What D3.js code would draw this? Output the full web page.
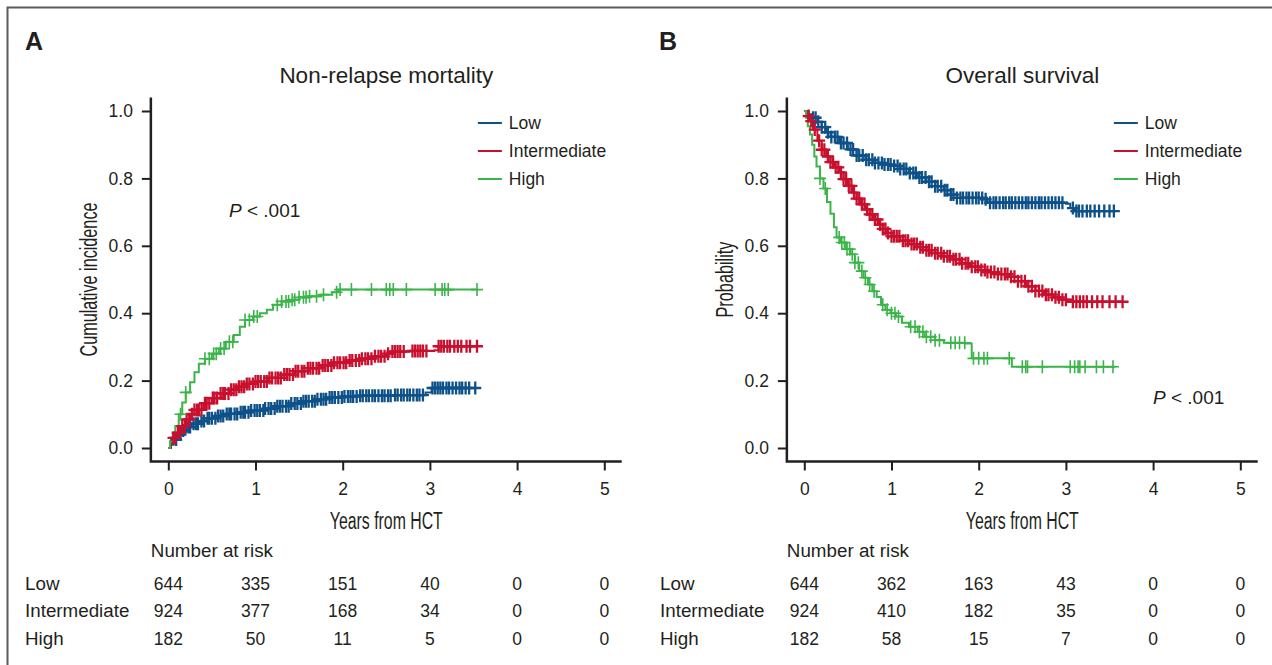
<!DOCTYPE html>
<html>
<head>
<meta charset="utf-8">
<script src="https://cdn.jsdelivr.net/npm/d3@7"></script>
<style>
  body { margin: 0; background: #fff; }
  svg { display: block; }
  text { fill: #231f20; font-family: "Liberation Sans", Arial, sans-serif; }
</style>
</head>
<body>
<svg id="chart" width="1272" height="665"></svg>
<script>
// ---- data ----
const groups = ["Low", "Intermediate", "High"];
const colors = ["#0e5189", "#c8102e", "#3bb44a"];
const censorWidth = [2.3, 2.3, 1.6];
const xTicks = [0, 1, 2, 3, 4, 5];
const yTicks = [0, 0.2, 0.4, 0.6, 0.8, 1.0];

// A: non-relapse mortality, [years, cumulative incidence]
const nrmLow = [[0,0],[0.03,0.01],[0.06,0.025],[0.1,0.04],[0.15,0.052],[0.2,0.062],[0.27,0.072],[0.35,0.08],[0.45,0.088],[0.55,0.095],[0.65,0.101],[0.8,0.106],[0.95,0.111],[1.1,0.117],[1.25,0.124],[1.4,0.132],[1.55,0.139],[1.7,0.145],[1.85,0.15],[2.0,0.153],[2.2,0.155],[2.6,0.157],[2.95,0.165],[3.02,0.178],[3.52,0.178]];
const nrmInt = [[0,0],[0.03,0.015],[0.06,0.03],[0.1,0.045],[0.15,0.065],[0.2,0.085],[0.25,0.1],[0.3,0.113],[0.4,0.133],[0.5,0.148],[0.6,0.162],[0.7,0.173],[0.8,0.182],[0.9,0.19],[1.0,0.197],[1.15,0.208],[1.3,0.218],[1.45,0.228],[1.6,0.237],[1.75,0.245],[1.9,0.253],[2.05,0.26],[2.2,0.265],[2.35,0.272],[2.5,0.28],[2.55,0.286],[2.8,0.288],[3.05,0.29],[3.1,0.302],[3.54,0.302]];
const nrmHigh = [[0,0],[0.02,0.02],[0.05,0.045],[0.08,0.065],[0.12,0.1],[0.16,0.135],[0.2,0.165],[0.25,0.195],[0.3,0.225],[0.35,0.25],[0.42,0.265],[0.5,0.28],[0.58,0.295],[0.66,0.315],[0.75,0.335],[0.82,0.36],[0.88,0.38],[0.97,0.39],[1.05,0.4],[1.13,0.41],[1.2,0.425],[1.3,0.435],[1.4,0.44],[1.5,0.447],[1.6,0.45],[1.75,0.455],[1.88,0.462],[1.95,0.47],[3.55,0.47]];

// censoring times (years)
const nrmLowCens = [0.09,0.12,0.14,0.17,0.2,0.23,0.25,0.29,0.32,0.34,0.38,0.41,0.45,0.47,0.5,0.54,0.57,0.6,0.63,0.67,0.7,0.72,0.76,0.79,0.83,0.86,0.88,0.92,0.95,0.99,1.02,1.05,1.09,1.11,1.15,1.18,1.22,1.25,1.28,1.31,1.35,1.38,1.41,1.45,1.48,1.52,1.55,1.58,1.61,1.65,1.68,1.71,1.75,1.78,1.81,1.85,1.88,1.91,1.95,1.99,2.02,2.06,2.09,2.12,2.16,2.2,2.23,2.27,2.3,2.34,2.37,2.41,2.45,2.48,2.52,2.55,2.6,2.63,2.67,2.7,2.74,2.77,2.81,2.85,2.88,2.92,3.03,3.06,3.09,3.12,3.15,3.19,3.22,3.26,3.3,3.34,3.37,3.41,3.45,3.52];
const nrmIntCens = [0.06,0.08,0.11,0.13,0.16,0.19,0.21,0.24,0.27,0.3,0.33,0.35,0.38,0.42,0.44,0.47,0.51,0.53,0.56,0.6,0.63,0.65,0.69,0.72,0.75,0.78,0.81,0.84,0.87,0.9,0.93,0.97,1.0,1.03,1.06,1.1,1.13,1.16,1.19,1.23,1.26,1.29,1.33,1.36,1.39,1.43,1.46,1.49,1.53,1.56,1.6,1.63,1.66,1.7,1.73,1.77,1.8,1.83,1.87,1.9,1.94,1.97,2.01,2.04,2.08,2.11,2.15,2.19,2.22,2.26,2.29,2.33,2.37,2.41,2.44,2.48,2.52,2.57,2.6,2.63,2.66,2.7,2.8,2.83,2.86,2.89,2.92,2.96,3.1,3.13,3.16,3.2,3.23,3.28,3.32,3.36,3.42,3.46,3.54];
const nrmHighCens = [0.14,0.2,0.42,0.47,0.52,0.55,0.6,0.64,0.7,0.74,0.88,0.93,0.98,1.02,1.25,1.3,1.35,1.38,1.42,1.45,1.5,1.55,1.58,1.62,1.7,1.78,1.93,1.97,2.1,2.33,2.5,2.54,2.58,2.73,3.06,3.14,3.17,3.21,3.54];

// B: overall survival, [years, probability]
const osLow = [[0,1],[0.05,0.99],[0.1,0.98],[0.15,0.968],[0.2,0.952],[0.25,0.937],[0.3,0.923],[0.4,0.905],[0.5,0.886],[0.6,0.868],[0.7,0.855],[0.8,0.846],[0.9,0.841],[1.0,0.837],[1.1,0.828],[1.2,0.816],[1.3,0.803],[1.4,0.79],[1.5,0.777],[1.6,0.765],[1.68,0.752],[1.75,0.742],[2.05,0.738],[2.1,0.728],[3.0,0.725],[3.05,0.712],[3.1,0.703],[3.55,0.703]];
const osInt = [[0,1],[0.03,0.985],[0.06,0.97],[0.1,0.945],[0.15,0.912],[0.2,0.885],[0.25,0.865],[0.3,0.848],[0.35,0.833],[0.4,0.818],[0.45,0.798],[0.5,0.778],[0.55,0.758],[0.6,0.74],[0.65,0.723],[0.7,0.708],[0.75,0.693],[0.8,0.678],[0.85,0.663],[0.9,0.65],[0.95,0.638],[1.0,0.628],[1.1,0.615],[1.2,0.605],[1.3,0.596],[1.4,0.587],[1.5,0.578],[1.6,0.569],[1.7,0.56],[1.8,0.548],[1.9,0.538],[2.0,0.528],[2.1,0.522],[2.2,0.516],[2.35,0.508],[2.45,0.495],[2.55,0.48],[2.65,0.466],[2.75,0.455],[2.85,0.447],[2.95,0.44],[3.05,0.434],[3.65,0.434]];
const osHigh = [[0,1],[0.02,0.98],[0.04,0.955],[0.065,0.93],[0.09,0.9],[0.115,0.865],[0.14,0.835],[0.18,0.8],[0.22,0.77],[0.26,0.73],[0.3,0.695],[0.34,0.655],[0.37,0.625],[0.42,0.61],[0.48,0.59],[0.53,0.575],[0.58,0.55],[0.63,0.525],[0.68,0.505],[0.73,0.485],[0.78,0.465],[0.83,0.448],[0.88,0.425],[0.93,0.41],[0.99,0.4],[1.05,0.39],[1.12,0.372],[1.2,0.36],[1.3,0.345],[1.38,0.33],[1.5,0.32],[1.6,0.312],[1.85,0.31],[1.92,0.266],[2.35,0.266],[2.38,0.241],[3.57,0.241]];

const osLowCens = [0.1,0.13,0.16,0.2,0.24,0.27,0.31,0.35,0.38,0.42,0.45,0.49,0.53,0.56,0.6,0.63,0.67,0.71,0.74,0.78,0.81,0.85,0.89,0.92,0.96,0.99,1.03,1.07,1.1,1.14,1.17,1.21,1.25,1.28,1.32,1.35,1.39,1.43,1.46,1.5,1.53,1.57,1.61,1.64,1.68,1.71,1.75,1.79,1.82,1.86,1.89,1.93,1.97,2.0,2.04,2.08,2.13,2.17,2.2,2.24,2.28,2.31,2.35,2.38,2.42,2.46,2.5,2.54,2.57,2.61,2.65,2.69,2.72,2.76,2.8,2.84,2.88,2.92,2.96,3.08,3.12,3.15,3.19,3.24,3.28,3.33,3.38,3.44,3.5,3.55];
const osIntCens = [0.05,0.08,0.12,0.17,0.2,0.23,0.27,0.3,0.33,0.36,0.39,0.42,0.45,0.48,0.51,0.54,0.57,0.6,0.63,0.66,0.69,0.72,0.75,0.78,0.81,0.84,0.87,0.9,0.93,0.96,1.0,1.03,1.06,1.09,1.13,1.16,1.19,1.23,1.26,1.29,1.33,1.36,1.4,1.43,1.46,1.5,1.53,1.57,1.6,1.64,1.67,1.71,1.74,1.78,1.81,1.85,1.88,1.92,1.96,1.99,2.03,2.07,2.1,2.14,2.18,2.22,2.26,2.3,2.33,2.37,2.41,2.45,2.49,2.53,2.57,2.61,2.65,2.69,2.73,2.77,2.8,2.84,2.88,2.92,2.96,3.0,3.08,3.12,3.16,3.2,3.24,3.3,3.36,3.42,3.5,3.57,3.65];
const osHighCens = [0.18,0.24,0.4,0.43,0.46,0.49,0.52,0.55,0.58,0.62,0.66,0.7,0.75,0.8,0.9,0.95,1.0,1.04,1.08,1.22,1.27,1.32,1.36,1.4,1.45,1.5,1.55,1.68,1.73,1.78,1.84,1.94,2.0,2.06,2.1,2.35,2.5,2.54,2.56,2.73,3.05,3.1,3.14,3.16,3.22,3.35,3.43,3.54];

// number at risk
const riskA = [[644,335,151,40,0,0],[924,377,168,34,0,0],[182,50,11,5,0,0]];
const riskB = [[644,362,163,43,0,0],[924,410,182,35,0,0],[182,58,15,7,0,0]];

const svg = d3.select("#chart");

// frame
svg.append("path")
    .attr("d", "M7.5,665 V7.5 H1272")
    .attr("fill", "none")
    .attr("stroke", "#5a5a5a")
    .attr("stroke-width", 2);

function stepValue(curve, t) {
    let v = curve[0][1];
    for (const p of curve) { if (p[0] <= t) v = p[1]; else break; }
    return v;
}

function drawPanel(o) {
    const x = d3.scaleLinear().domain([0, 5]).range([o.x0, o.x0 + 436]);
    const y = d3.scaleLinear().domain([0, 1]).range([448, 111]);
    const g = svg.append("g");

    // panel letter + title
    g.append("text").attr("x", o.letterX).attr("y", 50)
        .style("font-size", "25px").style("font-weight", "bold").text(o.letter);
    g.append("text").attr("x", (x(-0.2) + x(5.2)) / 2).attr("y", 83)
        .attr("text-anchor", "middle").style("font-size", "22.5px").text(o.title);

    // L-shaped box
    g.append("path")
        .attr("d", `M${x(-0.2)},${y(1.04)} V${y(-0.04)} H${x(5.2)}`)
        .attr("fill", "none").attr("stroke", "#231f20").attr("stroke-width", 2.5);

    const yAxis = g.append("g").attr("transform", `translate(${x(-0.2)},0)`)
        .call(d3.axisLeft(y).tickValues(yTicks).tickFormat(d3.format(".1f")).tickSize(9).tickPadding(9));
    const xAxis = g.append("g").attr("transform", `translate(0,${y(-0.04)})`)
        .call(d3.axisBottom(x).tickValues(xTicks).tickFormat(d3.format("d")).tickSize(9).tickPadding(12));
    [yAxis, xAxis].forEach(a => {
        a.select(".domain").remove();
        a.selectAll("line").attr("stroke", "#231f20").attr("stroke-width", 2);
        a.selectAll("text").style("font-size", "17.5px").style("font-family", null).attr("fill", "#231f20");
    });

    // condensed axis titles
    g.append("text")
        .attr("x", (x(-0.2) + x(5.2)) / 2).attr("y", 529)
        .attr("text-anchor", "middle").style("font-size", "23px")
        .attr("textLength", 113).attr("lengthAdjust", "spacingAndGlyphs")
        .text("Years from HCT");
    g.append("text")
        .attr("transform", `translate(${o.x0 - 71},${y(0.5)}) rotate(-90)`)
        .attr("text-anchor", "middle").style("font-size", "23px")
        .attr("textLength", o.yLabelLen).attr("lengthAdjust", "spacingAndGlyphs")
        .text(o.yLabel);

    // curves
    const line = d3.line().x(d => x(d[0])).y(d => y(d[1])).curve(d3.curveStepAfter);
    o.curves.forEach((c, i) => {
        g.append("path").datum(c).attr("d", line)
            .attr("fill", "none").attr("stroke", colors[i]).attr("stroke-width", 2);
    });
    o.censors.forEach((cs, i) => {
        g.append("g").selectAll("path").data(cs).join("path")
            .attr("d", t => {
                const cx = x(t), cy = y(stepValue(o.curves[i], t));
                return `M${cx - 6},${cy}H${cx + 6}M${cx},${cy - 6.5}V${cy + 6.5}`;
            })
            .attr("fill", "none").attr("stroke", colors[i]).attr("stroke-width", censorWidth[i]);
    });

    // legend
    const leg = g.append("g").attr("transform", `translate(${x(-0.2) + 327},123)`);
    groups.forEach((name, i) => {
        leg.append("line").attr("x1", 0).attr("x2", 24).attr("y1", i * 28).attr("y2", i * 28)
            .attr("stroke", colors[i]).attr("stroke-width", 2);
        leg.append("text").attr("x", 31).attr("y", i * 28).attr("dy", "0.35em")
            .style("font-size", "17.5px").text(name);
    });

    // p-value
    const p = g.append("text").attr("x", o.pX).attr("y", o.pY).style("font-size", "19px");
    p.append("tspan").style("font-style", "italic").text("P");
    p.append("tspan").text(" < .001");

    // number at risk table
    g.append("text").attr("x", x(-0.2)).attr("y", 557).style("font-size", "18.8px").text("Number at risk");
    groups.forEach((name, r) => {
        const yy = 589.5 + r * 27.8;
        g.append("text").attr("x", o.rowX).attr("y", yy).style("font-size", "18.8px").text(name);
        g.append("g").selectAll("text").data(o.risk[r]).join("text")
            .attr("x", (d, j) => x(xTicks[j])).attr("y", yy)
            .attr("text-anchor", "middle").style("font-size", "17.5px").text(d => d);
    });
}

drawPanel({
    letter: "A", letterX: 25, title: "Non-relapse mortality",
    yLabel: "Cumulative incidence", yLabelLen: 154,
    x0: 168.3, rowX: 25, pX: 229, pY: 217,
    curves: [nrmLow, nrmInt, nrmHigh], censors: [nrmLowCens, nrmIntCens, nrmHighCens], risk: riskA
});
drawPanel({
    letter: "B", letterX: 659, title: "Overall survival",
    yLabel: "Probability", yLabelLen: 76,
    x0: 804.3, rowX: 660, pX: 1153, pY: 404,
    curves: [osLow, osInt, osHigh], censors: [osLowCens, osIntCens, osHighCens], risk: riskB
});
</script>
</body>
</html>
